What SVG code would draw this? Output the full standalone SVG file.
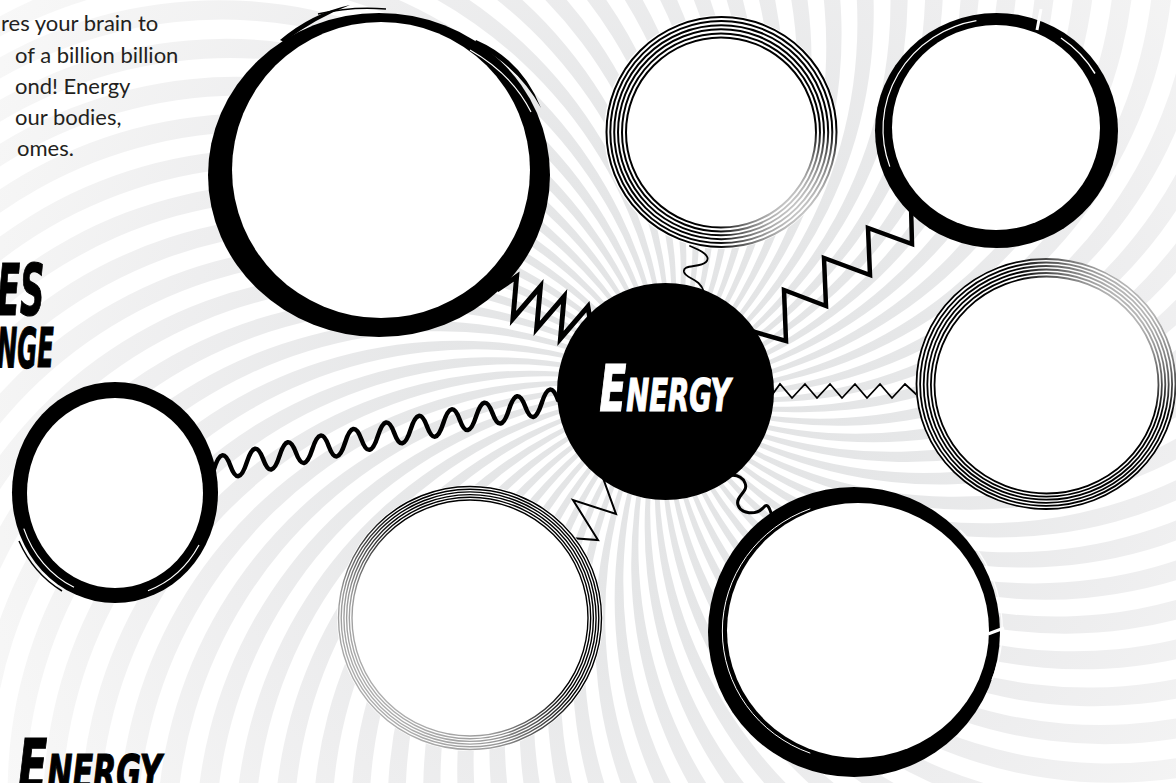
<svg xmlns="http://www.w3.org/2000/svg" width="1176" height="783" viewBox="0 0 1176 783">
<defs>
<style>
.bt{font-family:Lato,'Noto Sans','Liberation Sans',sans-serif;font-size:22px;fill:#231f20}
.dt{font-family:'Liberation Sans Narrow','DejaVu Sans Condensed','Liberation Sans',sans-serif;font-weight:bold;font-style:italic}
.ink{fill:#000}
.paper{fill:#fff}
.cz{fill:none;stroke:#000;stroke-linejoin:miter;stroke-miterlimit:12;stroke-linecap:butt}
.cw{fill:none;stroke:#000;stroke-linecap:round;stroke-linejoin:round}
.gap{fill:none;stroke:#fff}
.streak{fill:none;stroke:#000}
</style>
<radialGradient id="rayGrad" gradientUnits="userSpaceOnUse" cx="0" cy="0" r="800">
<stop offset="0" stop-color="#e1e2e3"/>
<stop offset="0.3" stop-color="#e6e7e8"/>
<stop offset="0.6" stop-color="#eeeeef"/>
<stop offset="0.85" stop-color="#f5f5f5"/>
<stop offset="1" stop-color="#f9f9f9"/>
</radialGradient>
<linearGradient id="fadeTM" x1="0" y1="0" x2="1" y2="1">
<stop offset="0" stop-color="#000"/>
<stop offset="0.74" stop-color="#000"/>
<stop offset="0.86" stop-color="#cfcfcf"/>
<stop offset="0.96" stop-color="#444"/>
</linearGradient>
<linearGradient id="fadeR" x1="0" y1="1" x2="1" y2="0">
<stop offset="0" stop-color="#000"/>
<stop offset="0.68" stop-color="#000"/>
<stop offset="0.85" stop-color="#b5b5b5"/>
<stop offset="1" stop-color="#999"/>
</linearGradient>
<linearGradient id="fadeBL" x1="1" y1="0" x2="0" y2="1">
<stop offset="0" stop-color="#000"/>
<stop offset="0.45" stop-color="#000"/>
<stop offset="0.7" stop-color="#9a9a9a"/>
<stop offset="1" stop-color="#c0c0c0"/>
</linearGradient>
<path id="ray" d="M0,0 A450,450 0 0,0 366.6,-711 L397.3,-694.3 A450,450 0 0,1 0,0 Z"/>
<g id="r8">
<use href="#ray"/>
<use href="#ray" transform="rotate(5)"/>
<use href="#ray" transform="rotate(10)"/>
<use href="#ray" transform="rotate(15)"/>
<use href="#ray" transform="rotate(20)"/>
<use href="#ray" transform="rotate(25)"/>
<use href="#ray" transform="rotate(30)"/>
<use href="#ray" transform="rotate(35)"/>
</g>
</defs>

<rect width="1176" height="783" fill="#fff"/>

<g id="background" transform="translate(665.5,391.5)" fill="url(#rayGrad)">
<use href="#r8"/>
<use href="#r8" transform="rotate(40)"/>
<use href="#r8" transform="rotate(80)"/>
<use href="#r8" transform="rotate(120)"/>
<use href="#r8" transform="rotate(160)"/>
<use href="#r8" transform="rotate(200)"/>
<use href="#r8" transform="rotate(240)"/>
<use href="#r8" transform="rotate(280)"/>
<use href="#r8" transform="rotate(320)"/>
</g>

<g id="connectors">
<polyline id="c-topleft" class="cz" stroke-width="5" points="497,290 516.6,276.6 513,318.5 540.4,286.6 536.7,328.5 564.1,296.6 560.5,338.5 587.9,306.6 592,330"/>
<path id="c-topmid" class="cw" stroke-width="1.8" d="M690,246 C700,250 712,256 706,262 C700,268 682,264 684,272 C686,279 700,278 704,292"/>
<polyline id="c-topright" class="cz" stroke-width="4.5" points="748,330 786,341 784,290 826,306 824,258 870,275 868,228 912,244 911,205"/>
<polyline id="c-right" class="cz" stroke-width="1.8" points="772,395 780,384 792,398 805,384 817,398 830,384 842,398 855,384 867,398 880,384 892,398 905,384 918,396"/>
<path id="c-left" class="cw" stroke-width="4.5" d="M214,469 q8.19,-25.64 16.381,-3.286 t16.381,-3.286 t16.381,-3.286 t16.381,-3.286 t16.381,-3.286 t16.381,-3.286 t16.381,-3.286 t16.381,-3.286 t16.381,-3.286 t16.381,-3.286 t16.381,-3.286 t16.381,-3.286 t16.381,-3.286 t16.381,-3.286 t16.381,-3.286 t16.381,-3.286 t16.381,-3.286 t16.381,-3.286 t16.381,-3.286 t16.381,-3.286 t16.381,-3.286"/>
<polyline id="c-bottomleft" class="cz" stroke-width="2" points="603,478 616,514 573,500 598,540 570,538"/>
<path id="c-bottomright" class="cw" stroke-width="3" d="M716,482 C726,474 740,472 745,483 C749,492 735,496 738,505 C741,514 756,516 764,507 C768,502 770,510 772,516"/>
</g>

<g id="node-topleft">
<ellipse class="ink" cx="379" cy="175" rx="171" ry="162"/>
<ellipse class="paper" cx="381" cy="170" rx="149" ry="148"/>
<path class="ink" d="M280,40 Q312,13 350,5 Q316,18 284,42 Z"/>
<path class="streak" stroke-width="1.5" d="M318,14 Q352,6 386,9"/>
<path class="ink" d="M476,40 Q522,60 541,108 Q518,66 474,44 Z"/>
<path class="gap" stroke-width="1.2" d="M470,50 Q512,74 531,112"/>
</g>

<g id="node-topmid">
<circle class="paper" cx="721" cy="132" r="117"/>
<g fill="none" stroke="url(#fadeTM)" stroke-width="2">
<circle cx="721" cy="132.5" r="95"/>
<circle cx="721" cy="132.4" r="99"/>
<circle cx="721" cy="132.3" r="103"/>
<circle cx="721.2" cy="132.2" r="107"/>
<circle cx="721.3" cy="132.1" r="111"/>
<circle cx="721.5" cy="132" r="115"/>
</g>
</g>

<g id="node-topright">
<ellipse class="ink" cx="996.5" cy="130.5" rx="121.5" ry="117.5"/>
<ellipse class="paper" cx="996" cy="127.5" rx="104" ry="102.5"/>
<path class="gap" stroke-width="1.2" d="M889.8,166.6 A113,110 0 0,1 976.4,20.7"/>
<path class="gap" stroke-width="3" d="M1041,9 L1037,30"/>
<path class="gap" stroke-width="1.5" d="M1061,38 A114,111 0 0,1 1095,73.5"/>
</g>

<g id="node-right">
<ellipse class="paper" cx="1046" cy="384" rx="130.5" ry="126"/>
<g fill="none" stroke="url(#fadeR)" stroke-width="1.8">
<ellipse cx="1046.5" cy="385" rx="112" ry="108.5"/>
<ellipse cx="1046.4" cy="384.8" rx="115.5" ry="111.8"/>
<ellipse cx="1046.3" cy="384.6" rx="119" ry="115.1"/>
<ellipse cx="1046.2" cy="384.4" rx="122.5" ry="118.4"/>
<ellipse cx="1046.1" cy="384.2" rx="126" ry="121.7"/>
<ellipse cx="1046" cy="384" rx="129.5" ry="125"/>
</g>
</g>

<g id="node-left">
<ellipse class="ink" cx="115" cy="492.5" rx="103" ry="110.5"/>
<ellipse class="paper" cx="115" cy="493" rx="88" ry="95"/>
<path class="gap" stroke-width="1.2" d="M23.8,528.6 A97,104 0 0,0 74,587.3"/>
<path class="streak" stroke-width="1.5" d="M19,541 A106,113.5 0 0,0 62,591"/>
<path class="gap" stroke-width="1.2" d="M148,590.7 A97,104 0 0,0 199,545"/>
</g>

<g id="node-bottomleft">
<circle class="paper" cx="470" cy="618" r="133"/>
<g fill="none" stroke="url(#fadeBL)" stroke-width="1.4">
<circle cx="470" cy="618" r="118"/>
<circle cx="470" cy="618" r="120.7"/>
<circle cx="470" cy="618" r="123.4"/>
<circle cx="470" cy="618" r="126.1"/>
<circle cx="470" cy="618" r="128.8"/>
<circle cx="470" cy="618" r="131.5"/>
</g>
</g>

<g id="node-bottomright">
<ellipse class="ink" cx="854" cy="632" rx="146" ry="145"/>
<ellipse class="paper" cx="858" cy="630.5" rx="131" ry="127.5"/>
<path class="gap" stroke-width="1" d="M810.3,508.8 A133.5,130 0 0,0 810.3,753.2"/>
<path class="gap" stroke-width="1.3" d="M960,530 A138,137 0 0,1 992,680"/>
<path class="gap" stroke-width="3" d="M988,634 L1004,628"/>
</g>

<g id="node-energy">
<circle class="ink" cx="665.5" cy="391.5" r="108.5"/>
<text class="dt" transform="translate(665,411) scale(0.68,1)" text-anchor="middle" fill="#fff" stroke="#fff" stroke-width="1.2"><tspan font-size="64">E</tspan><tspan font-size="45">NERGY</tspan></text>
</g>

<g id="intro-text" class="bt">
<text x="1" y="30.5">res your brain to</text>
<text x="15" y="62.5">of a billion billion</text>
<text x="15" y="94">ond! Energy</text>
<text x="15" y="125">our bodies,</text>
<text x="17" y="156">omes.</text>
</g>

<g id="title-partial" class="dt" fill="#000" stroke="#000" stroke-width="1.2">
<text transform="translate(-3,315) scale(0.53,1)" font-size="71">ES</text>
<text transform="translate(-3,367) scale(0.49,1)" font-size="55">NGE</text>
</g>

<g id="footer-title" class="dt" fill="#000" stroke="#000" stroke-width="1.2">
<text transform="translate(18,790) scale(0.67,1)"><tspan font-size="71">E</tspan><tspan font-size="50">NERGY</tspan></text>
</g>
</svg>
